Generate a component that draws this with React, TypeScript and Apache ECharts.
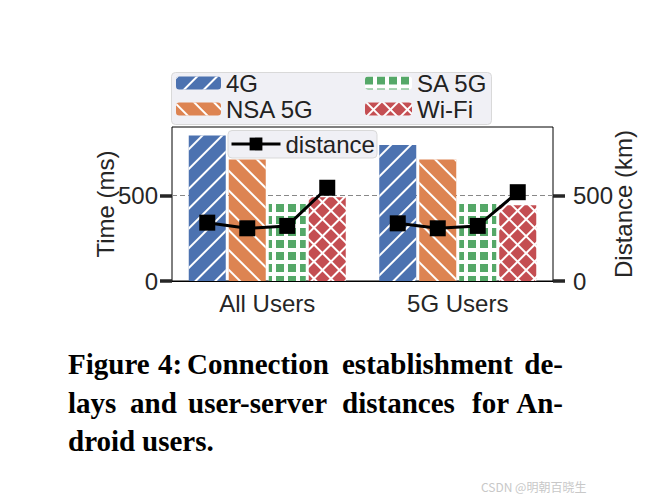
import React, { useEffect, useRef } from 'react';
import * as echarts from 'echarts';

// ---- data ----
const categories = ['All Users', '5G Users'];
const techs = ['4G', 'NSA 5G', 'SA 5G', 'Wi-Fi'];
const delay4G = [850, 795];
const delayNSA = [710, 710];
const delaySA = [463, 463];
const delayWiFi = [490, 442];
const distanceAll = [341, 308, 322, 545];
const distance5G = [337, 308, 322, 519];
const yTicks = [0, 500];
const gridLineValues = [500];
const yMax = 900;
const captionLines = [
  ['Figure', '4:', 'Connection', 'establishment', 'de-'],
  ['lays', 'and', 'user-server', 'distances', 'for', 'An-'],
  ['droid', 'users.'],
];

// ---- layout ----
const W = 661;
const H = 500;
const GRID_L = 172;
const GRID_R = 553;
const GRID_T = 127;
const GRID_B = 281;
const BAR_W = 37;
const BAR_GAP = 3;
const SANS = '"Liberation Sans", Arial, sans-serif';
const TXT = '#262626';

const colors = ['#4C72B0', '#DD8452', '#55A868', '#C44E52'];
// fill under the decal: solid colour for hatched bars, white for the "grid" bars
const fills = [colors[0], colors[1], '#ffffff', '#ffffff'];

const decals: any[] = [
  { symbol: 'rect', symbolSize: 1, color: '#ffffff', dashArrayX: [1, 0], dashArrayY: [2, 12], rotation: -Math.PI / 4 },
  { symbol: 'rect', symbolSize: 1, color: '#ffffff', dashArrayX: [1, 0], dashArrayY: [2, 12], rotation: Math.PI / 4 },
  { symbol: 'rect', symbolSize: 1, color: colors[2], dashArrayX: [8, 4], dashArrayY: [8, 4], rotation: 0 },
  { symbol: 'rect', symbolSize: 1, color: colors[3], dashArrayX: [10, 2], dashArrayY: [10, 2], rotation: Math.PI / 4 },
];

const wordX = [
  [68, 158, 187, 342, 563],
  [68, 130, 188, 342, 472, 563],
  [68, 142],
];
const lineY = [363.5, 402.5, 440.5];

export default function App() {
  const ref = useRef<HTMLDivElement>(null);
  useEffect(() => {
    if (!ref.current) return;
    const chart = echarts.init(ref.current, undefined, { renderer: 'svg' });

    const catWidth = (GRID_R - GRID_L) / categories.length;
    const step = (BAR_W + BAR_GAP) / catWidth;
    const off = (k: number) => (k - (techs.length - 1) / 2) * step;
    const distSeries = [distanceAll, distance5G].map((arr, c) => ({
      type: 'line',
      name: 'distance',
      xAxisIndex: 1,
      yAxisIndex: 1,
      data: arr.map((v, k) => [c + 0.5 + off(k), v]),
      symbol: 'rect',
      symbolSize: 16,
      lineStyle: { color: '#000', width: 3 },
      itemStyle: { color: '#000' },
      z: 6,
    }));

    const barData = [delay4G, delayNSA, delaySA, delayWiFi];
    const barSeries = techs.map((t, i) => ({
      type: 'bar',
      name: t,
      data: barData[i],
      barWidth: BAR_W,
      barGap: `${(BAR_GAP / BAR_W) * 100}%`,
      itemStyle: { color: fills[i], decal: decals[i] },
      z: 2,
    }));

    const graphics: any[] = [
      {
        type: 'rect', z: 3,
        shape: { x: 171.5, y: 72.5, width: 320, height: 52, r: 4 },
        style: { fill: '#f0f0f5', stroke: '#d9d9d9', lineWidth: 1 },
      },
      {
        type: 'rect', z: 3,
        shape: { x: 228, y: 130.5, width: 149, height: 27.5, r: 4 },
        style: { fill: '#f0f0f5', stroke: '#d9d9d9', lineWidth: 1 },
      },
      {
        type: 'text', z: 3, x: 481, y: 486,
        style: { text: 'CSDN @明朝百晓生', font: '12px "Noto Sans CJK SC", sans-serif', fill: '#c8c8c8', verticalAlign: 'middle' },
      },
    ];
    captionLines.forEach((words, li) => {
      words.forEach((w, wi) => {
        const isLast = wi === words.length - 1 && li < captionLines.length - 1;
        graphics.push({
          type: 'text', z: 3, x: wordX[li][wi], y: lineY[li],
          style: {
            text: w,
            font: 'bold 29px "Liberation Serif", "Times New Roman", serif',
            fill: '#000',
            align: isLast ? 'right' : 'left',
            verticalAlign: 'middle',
          },
        });
      });
    });

    const legendBase = {
      orient: 'vertical',
      padding: 0,
      itemGap: 2,
      itemHeight: 13,
      textStyle: { fontSize: 24, fontFamily: SANS, color: '#222', lineHeight: 24, padding: [0, 0, 0, 0] },
      z: 5,
    };

    const yAxisBase = {
      type: 'value',
      min: 0,
      max: yMax,
      interval: 500,
      axisLine: { show: false },
      axisTick: { show: true, length: 12, lineStyle: { width: 3.5, color: TXT }, customValues: yTicks },
      axisLabel: { fontSize: 24, fontFamily: SANS, color: TXT, customValues: yTicks },
      splitLine: { show: false },
      nameLocation: 'middle',
      nameRotate: 90,
      nameMoveOverlap: false,
      nameTextStyle: { fontSize: 24, fontFamily: SANS, color: TXT },
    };

    chart.setOption({
      animation: false,
      backgroundColor: '#fff',
      aria: { enabled: false },
      grid: {
        left: GRID_L, right: W - GRID_R, top: GRID_T, bottom: H - GRID_B,
        show: true, borderColor: '#000', borderWidth: 1, backgroundColor: 'transparent',
      },
      legend: [
        { ...legendBase, data: ['4G', 'NSA 5G'], left: 176, top: 71, itemWidth: 45 },
        { ...legendBase, data: ['SA 5G', 'Wi-Fi'], left: 365, top: 71, itemWidth: 47 },
        {
          ...legendBase, data: ['distance'], left: 230, top: 132, itemWidth: 49, itemHeight: 16,
          lineStyle: { width: 3, color: '#000' },
        },
      ],
      xAxis: [
        {
          type: 'category',
          data: categories,
          axisLine: { show: true, lineStyle: { color: '#000', width: 1 } },
          axisTick: { show: false },
          axisLabel: { fontSize: 24, fontFamily: SANS, color: TXT, margin: 10 },
        },
        { type: 'value', min: 0, max: categories.length, show: false },
      ],
      yAxis: [
        { ...yAxisBase, position: 'left', name: 'Time (ms)', nameGap: 55, axisLabel: { ...yAxisBase.axisLabel, margin: 14 } },
        { ...yAxisBase, position: 'right', name: 'Distance (km)', nameGap: 58, axisLabel: { ...yAxisBase.axisLabel, margin: 20 } },
        {
          type: 'value', min: 0, max: yMax, interval: 500, position: 'left',
          axisLine: { show: false },
          axisTick: { show: false, customValues: gridLineValues },
          axisLabel: { show: false, customValues: gridLineValues },
          splitLine: { show: true, lineStyle: { color: '#888', type: [5, 3], width: 1 } },
        },
      ],
      graphic: graphics,
      series: [...barSeries, ...distSeries],
    } as any);

    return () => chart.dispose();
  }, []);

  return <div ref={ref} style={{ position: 'fixed', left: 0, top: 0, width: W, height: H }} />;
}
